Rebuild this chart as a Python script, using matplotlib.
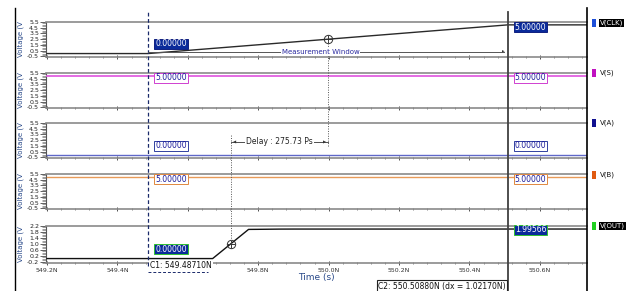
import numpy as np
import matplotlib
matplotlib.use("Agg")
import matplotlib.pyplot as plt
from matplotlib.lines import Line2D
from matplotlib.patches import Rectangle
from matplotlib.transforms import blended_transform_factory
from matplotlib.ticker import MultipleLocator, FixedLocator

# ---------------- data ----------------
signals = ["V(CLK)", "V(S)", "V(A)", "V(B)", "V(OUT)"]
time_clk = [549.2, 549.4871, 550.5088, 550.75]
v_clk = [0.0, 0.0, 5.0, 5.0]
time_const = [549.2, 550.75]
v_s = [5.0, 5.0]
v_a = [0.0, 0.0]
v_b = [5.0, 5.0]
time_out = [549.2, 549.67044, 549.77244, 549.80, 549.86, 549.90, 550.75]
v_out = [0.0, 0.0, 1.97, 1.975, 1.99, 1.993, 1.99566]
cursor1 = 549.48710
cursor2 = 550.50880
x_ticks = [549.2, 549.4, 549.6, 549.8, 550.0, 550.2, 550.4, 550.6]
x_tick_labels = ["549.2N", "549.4N", "", "549.8N", "550.0N", "550.2N", "550.4N", "550.6N"]
y_ticks_5v = [-0.5, 0.5, 1.5, 2.5, 3.5, 4.5, 5.5]
y_ticks_out = [-0.2, 0.2, 0.6, 1.0, 1.4, 1.8, 2.2]
out_cursor2_value = 1.99566

# ---------------- figure ----------------
W, H = 632, 291
fig = plt.figure(figsize=(W / 100, H / 100), dpi=100)
fig.patch.set_facecolor("white")

left_px, right_px = 46, 587
panels_px = [(22, 57), (73, 108), (123, 158), (174, 209), (226, 263)]
xlim = (549.197, 550.734)

line_colors = ["#2a2a2a", "#e060e0", "#6068c8", "#e89a58", "#111111"]
legend_colors = ["#1d4fd8", "#c010c0", "#101090", "#e05a10", "#20d020"]
gray = "#8a8a8a"
blue_txt = "#2a4a8a"

series_t = [time_clk, time_const, time_const, time_const, time_out]
series_v = [v_clk, v_s, v_a, v_b, v_out]

axes = []
for i, (yt, yb) in enumerate(panels_px):
    ax = fig.add_axes([left_px / W, 1 - yb / H, (right_px - left_px) / W, (yb - yt) / H])
    axes.append(ax)
    ax.plot(series_t[i], series_v[i], color=line_colors[i], lw=1.0 if i != 1 else 1.3, zorder=3)
    ax.set_xlim(*xlim)
    if i < 4:
        ax.set_ylim(-0.6, 5.5)
        ax.yaxis.set_major_locator(FixedLocator(y_ticks_5v))
        ax.yaxis.set_minor_locator(MultipleLocator(0.25))
        ax.set_yticklabels([f"{v:.1f}" for v in y_ticks_5v])
    else:
        ax.set_ylim(-0.3, 2.2)
        ax.yaxis.set_major_locator(FixedLocator(y_ticks_out))
        ax.yaxis.set_minor_locator(MultipleLocator(0.1))
        ax.set_yticklabels([f"{v:.1f}" for v in y_ticks_out])
    ax.xaxis.set_major_locator(FixedLocator(x_ticks))
    ax.xaxis.set_minor_locator(MultipleLocator(0.04))
    if i == 4:
        ax.set_xticklabels(x_tick_labels)
    else:
        ax.set_xticklabels([])
    for s in ["top", "bottom"]:
        ax.spines[s].set_color(gray)
        ax.spines[s].set_linewidth(1.2)
    ax.spines["right"].set_visible(False)
    ax.spines["left"].set_color("#555555")
    ax.spines["left"].set_linewidth(0.8)
    ax.tick_params(axis="y", which="major", labelsize=4.5, length=4, width=0.5, pad=1, colors="#222222")
    ax.tick_params(axis="y", which="minor", length=3, width=0.4, colors="#555555")
    ax.tick_params(axis="x", which="major", labelsize=4.5, length=3, width=0.6, pad=2, direction="inout", colors="#333333")
    ax.tick_params(axis="x", which="minor", length=2, width=0.5, direction="inout", colors="#555555")
    ax.set_ylabel("Voltage (V", fontsize=5, color=blue_txt)
    ax.yaxis.set_label_coords(-0.04, 0.5)
    ax.patch.set_alpha(0)

axes[4].set_xlabel("Time (s)", fontsize=6.5, color=blue_txt, labelpad=0)

# ---------------- figure-level lines ----------------
ftr = fig.transFigure
fig.add_artist(Line2D([15 / W, 15 / W], [0, 1 - 8 / H], transform=ftr, color="black", lw=1.0))
fig.add_artist(Line2D([right_px / W, right_px / W], [0, 1 - 8 / H], transform=ftr, color="black", lw=1.2))

bt = blended_transform_factory(axes[0].transData, ftr)
fig.add_artist(Line2D([cursor1, cursor1], [1 - 266 / H, 1 - 10 / H], transform=bt,
                      color="#1a2a6a", lw=0.9, ls=(0, (3, 2))))
fig.add_artist(Line2D([cursor2, cursor2], [0, 1 - 12 / H], transform=bt,
                      color="#404040", lw=1.3))

# ---------------- measurement markers ----------------
t_clk50 = np.interp(2.5, v_clk[1:3], time_clk[1:3])
t_out50 = np.interp(1.0, v_out[1:3], time_out[1:3])
delay_ps = (t_clk50 - t_out50) * 1000

for ax, (tx, vy) in [(axes[0], (t_clk50, 2.5)), (axes[4], (t_out50, 1.0))]:
    ax.plot([tx], [vy], marker="o", ms=6, mfc="none", mec="#333333", mew=0.7, zorder=5)
    ax.plot([tx], [vy], marker="+", ms=6, color="#333333", mew=0.7, zorder=5)

# dotted vertical lines for delay
fig.add_artist(Line2D([t_clk50, t_clk50], [1 - 146 / H, 1 - 40 / H], transform=bt,
                      color="#555555", lw=0.7, ls=(0, (1, 1.5))))
fig.add_artist(Line2D([t_out50, t_out50], [1 - 243 / H, 1 - 134 / H], transform=bt,
                      color="#555555", lw=0.7, ls=(0, (1, 1.5))))

# Delay arrow
ydel = 1 - 142 / H
fig.add_artist(Line2D([t_out50, t_clk50], [ydel, ydel], transform=bt, color="#333333", lw=0.6))
fig.text(t_out50 + 0.005, ydel, "\u25c0", transform=bt, fontsize=3, va="center", ha="left", color="#333333")
fig.text(t_clk50 - 0.005, ydel, "\u25b6", transform=bt, fontsize=3, va="center", ha="right", color="#333333")
fig.text((t_out50 + t_clk50) / 2, ydel, f"Delay : {delay_ps:.2f} Ps", transform=bt, fontsize=5.5,
         ha="center", va="center", color="#222222",
         bbox=dict(boxstyle="square,pad=0.15", fc="white", ec="none"))

# Measurement window
ymw = 1 - 52 / H
fig.add_artist(Line2D([cursor1, cursor2 - 0.01], [ymw, ymw], transform=bt, color="#555555", lw=0.7))
fig.text(cursor2 - 0.008, ymw, "\u25b6", transform=bt, fontsize=2.5, va="center", ha="right", color="#333333")
fig.text((cursor1 + cursor2) / 2 - 0.02, ymw, "Measurement Window", transform=bt, fontsize=5,
         ha="center", va="center", color="#2a2aa0",
         bbox=dict(boxstyle="square,pad=0.1", fc="white", ec="none"))

# ---------------- cursor value boxes ----------------
def box(ax, x, y, txt, fc, ec, tc):
    ax.text(x, y, txt, transform=blended_transform_factory(ax.transData, fig.transFigure),
            fontsize=5.5, color=tc, ha="left", va="center", zorder=6,
            bbox=dict(boxstyle="square,pad=0.12", fc=fc, ec=ec, lw=0.7))

dx_off = 0.02
vals1 = [np.interp(cursor1, series_t[i], series_v[i]) for i in range(5)]
vals2 = [np.interp(cursor2, series_t[i], series_v[i]) for i in range(5)]
vals2[4] = out_cursor2_value

y1_px = [44, 78, 146, 179, 249]
y2_px = [27, 78, 146, 179, 230]
styles = [("#0a2a9a", "#102080", "white"), ("white", "#d040d0", "#1a1a9a"),
          ("white", "#3040a0", "#1a1a9a"), ("white", "#e08840", "#1a1a9a"),
          ("#0a2a9a", "#30c030", "white")]
for i, ax in enumerate(axes):
    fc, ec, tc = styles[i]
    box(ax, cursor1 + dx_off, 1 - y1_px[i] / H, f"{vals1[i]:.5f}", fc, ec, tc)
    box(ax, cursor2 + dx_off, 1 - y2_px[i] / H, f"{vals2[i]:.5f}", fc, ec, tc)

# cursor labels at bottom
fig.text(cursor1 + 0.005, 1 - 266 / H, f"C1: {cursor1:.5f}N", transform=bt, fontsize=5.5,
         ha="left", va="center", color="#111111",
         bbox=dict(boxstyle="square,pad=0.12", fc="white", ec="none"))
fig.add_artist(Line2D([cursor1, cursor1 + 0.17], [1 - 272 / H, 1 - 272 / H], transform=bt,
                      color="#1a2a6a", lw=0.7, ls=(0, (3, 2))))
fig.text(cursor2 - 0.005, 1 - 286 / H, f"C2: {cursor2:.5f}N (dx = {cursor2 - cursor1:.5f}N)",
         transform=bt, fontsize=5.5, ha="right", va="center", color="#111111",
         bbox=dict(boxstyle="square,pad=0.15", fc="white", ec="#222222", lw=0.8))

# ---------------- legend ----------------
leg_y = [23, 73, 123, 175, 226]
for i, name in enumerate(signals):
    y = 1 - leg_y[i] / H
    fig.add_artist(Rectangle((592 / W, y - 4 / H), 4 / W, 8 / H, transform=ftr,
                             fc=legend_colors[i], ec="none"))
    selected = i in (0, 4)
    fig.text(600 / W, y, name, fontsize=5, ha="left", va="center",
             color="white" if selected else "#111111",
             bbox=dict(boxstyle="square,pad=0.15", fc="black", ec="none") if selected else None)

fig.savefig("out.png", dpi=100, facecolor="white")
